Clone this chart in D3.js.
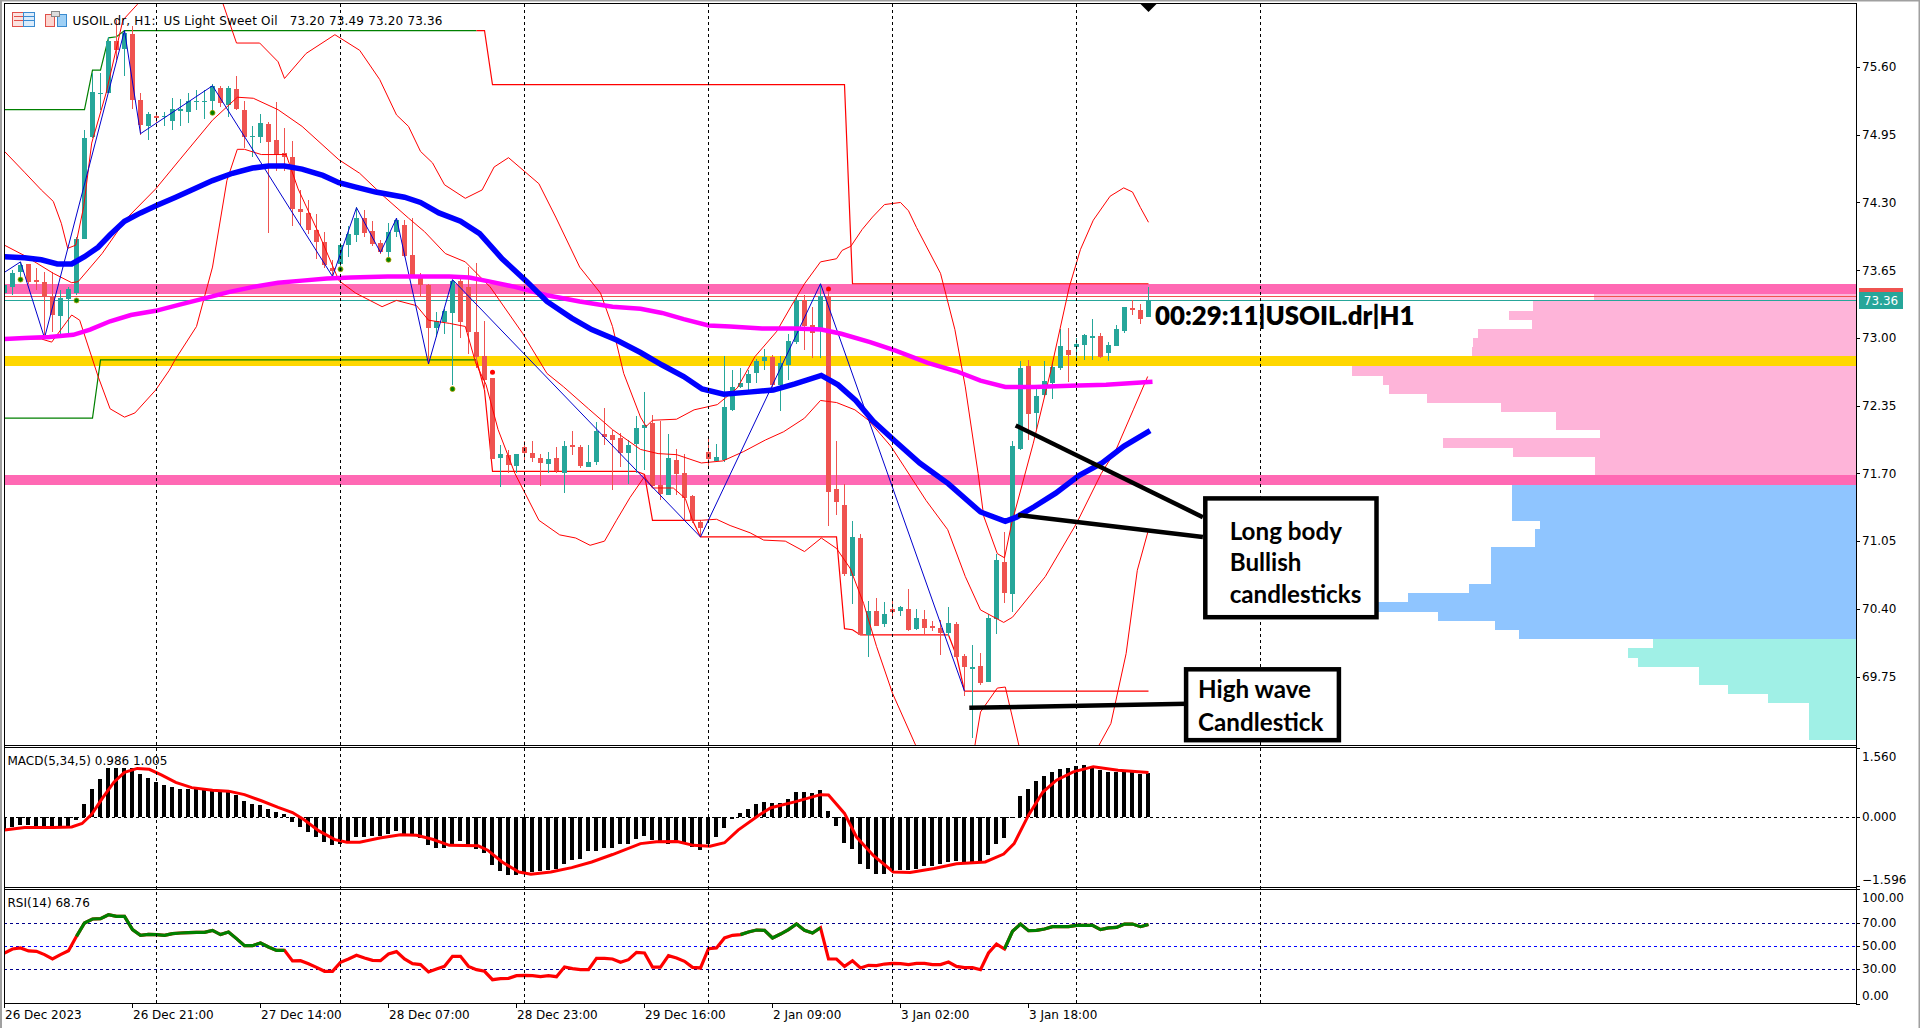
<!DOCTYPE html>
<html><head><meta charset="utf-8">
<script src="https://cdn.jsdelivr.net/npm/d3@7"></script>
<style>
html,body{margin:0;padding:0;background:#fff;overflow:hidden}
svg{display:block}
text{font-family:"DejaVu Sans",sans-serif;fill:#000}
</style></head><body>
<div id="chart"></div>
<script>
// [open, high, low, close] per hourly bar
const candles=[
[73.43,73.52,73.40,73.51],[73.49,73.65,73.41,73.62],[73.63,73.73,73.54,73.70],[73.71,73.71,73.52,73.54],[73.56,73.67,73.46,73.54],[73.54,73.63,73.01,73.39],[73.39,73.63,73.06,73.22],[73.21,73.46,73.01,73.38],
[73.37,73.49,73.04,73.47],[73.43,73.97,73.41,73.95],[73.95,75.00,73.95,74.92],[74.93,75.54,74.92,75.36],[75.34,75.54,75.19,75.35],[75.35,75.89,75.35,75.85],[75.85,76.05,75.67,75.76],[75.77,75.95,75.51,75.93],
[75.92,75.99,75.20,75.28],[75.28,75.35,74.95,75.04],[75.03,75.17,74.90,75.15],[75.13,75.15,75.06,75.11],[75.12,75.17,75.03,75.13],[75.08,75.30,75.00,75.20],[75.18,75.29,75.03,75.20],[75.17,75.35,75.06,75.27],
[75.26,75.38,75.19,75.27],[75.26,75.38,75.10,75.27],[75.27,75.44,75.16,75.42],[75.40,75.42,75.22,75.25],[75.24,75.42,75.12,75.40],[75.39,75.51,75.19,75.20],[75.19,75.27,74.82,74.93],[74.93,75.03,74.74,74.94],
[74.93,75.15,74.87,75.06],[75.05,75.07,74.01,74.88],[74.90,75.26,74.60,74.76],[74.77,75.01,74.60,74.74],[74.74,74.89,74.07,74.24],[74.24,74.42,74.08,74.21],[74.20,74.32,74.00,74.04],[74.04,74.19,73.76,73.92],
[73.92,74.02,73.67,73.70],[73.67,73.75,73.59,73.64],[73.71,73.91,73.68,73.89],[73.89,74.07,73.78,74.00],[73.99,74.26,73.92,74.15],[74.15,74.23,73.97,74.01],[74.03,74.12,73.88,73.90],[73.91,73.94,73.81,73.82],
[73.82,74.10,73.78,74.02],[74.02,74.15,73.97,74.13],[74.08,74.13,73.78,73.79],[73.80,74.15,73.59,73.60],[73.60,73.62,73.40,73.51],[73.51,73.52,72.76,73.10],[73.10,73.25,73.01,73.16],[73.15,73.28,73.04,73.26],
[73.24,73.56,72.55,73.55],[73.55,73.60,73.00,73.15],[73.49,73.68,72.85,73.06],[73.06,73.72,72.71,72.82],[72.83,73.16,72.50,72.60],[72.62,72.62,71.84,71.84],[71.85,71.97,71.57,71.89],[71.88,71.92,71.70,71.78],
[71.77,71.89,71.70,71.89],[71.95,72.01,71.81,71.90],[71.90,72.01,71.81,71.85],[71.85,71.89,71.58,71.80],[71.79,71.91,71.70,71.84],[71.85,71.95,71.70,71.72],[71.70,72.01,71.51,71.96],[71.97,72.11,71.88,71.95],
[71.95,71.97,71.75,71.77],[71.76,71.97,71.76,71.81],[71.81,72.19,71.78,72.11],[72.08,72.33,71.97,72.05],[72.07,72.12,71.54,72.02],[72.04,72.09,71.76,71.90],[71.90,72.02,71.60,71.97],[71.98,72.25,71.70,72.14],
[72.14,72.48,71.73,72.16],[72.18,72.26,71.57,71.58],[71.59,72.20,71.44,71.50],[71.49,72.08,71.49,71.85],[71.83,71.93,71.49,71.69],[71.70,71.89,71.25,71.46],[71.48,71.49,71.22,71.24],[71.23,71.25,71.09,71.18],
[71.91,72.03,71.74,71.84],[71.82,71.98,71.81,71.86],[71.83,72.83,71.81,72.34],[72.31,72.69,72.30,72.53],[72.53,72.71,72.52,72.57],[72.57,72.69,72.49,72.65],[72.66,72.80,72.57,72.78],[72.78,72.89,72.69,72.82],
[72.82,72.84,72.53,72.55],[72.55,72.83,72.30,72.76],[72.74,73.04,72.60,72.97],[72.96,73.40,72.94,73.36],[73.36,73.41,72.88,73.11],[73.12,73.30,72.81,73.05],[73.09,73.51,72.81,73.40],[73.40,73.44,71.20,71.52],
[71.55,72.01,71.30,71.43],[71.40,71.60,70.72,70.73],[70.72,71.24,70.45,71.09],[71.08,71.12,70.15,70.15],[70.15,70.48,69.94,70.38],[70.38,70.50,70.24,70.24],[70.25,70.47,70.23,70.35],[70.40,70.50,70.30,70.37],
[70.38,70.43,70.33,70.42],[70.40,70.59,70.19,70.20],[70.21,70.40,70.20,70.31],[70.30,70.39,70.16,70.22],[70.24,70.28,70.19,70.22],[70.22,70.29,69.96,70.17],[70.17,70.42,70.14,70.26],[70.25,70.27,69.94,69.94],
[69.95,69.97,69.56,69.84],[69.82,70.05,69.16,69.84],[69.85,69.98,69.67,69.69],[69.70,70.35,69.70,70.31],[70.30,70.93,70.16,70.87],[70.85,71.14,70.46,70.55],[70.54,72.01,70.37,71.96],[71.93,72.78,71.92,72.71],
[72.73,72.79,72.02,72.27],[72.28,72.53,72.13,72.44],[72.45,72.78,72.43,72.59],[72.57,72.76,72.41,72.72],[72.71,73.09,72.69,72.92],[72.88,73.10,72.58,72.84],[72.91,73.00,72.80,72.94],[72.93,73.04,72.79,73.03],
[73.00,73.18,72.79,73.02],[73.02,73.05,72.81,72.82],[72.86,72.96,72.78,72.93],[72.92,73.12,72.92,73.09],[73.07,73.30,73.05,73.30],[73.29,73.36,73.22,73.27],[73.27,73.33,73.13,73.18],[73.20,73.49,73.20,73.36]];

const emaBlue=[[0,73.78],[2.5,73.77],[4.6,73.75],[6.6,73.71],[8.4,73.71],[10,73.78],[11.7,73.87],[13.2,73.99],[15,74.12],[17,74.20],[19,74.27],[21.4,74.35],[23.4,74.42],[26,74.51],[28.5,74.58],[31,74.63],[33,74.65],[35,74.65],[37.2,74.62],[39.8,74.56],[41.8,74.49],[43.8,74.45],[46.4,74.40],[50,74.35],[52,74.30],[54.3,74.20],[57,74.12],[59.4,74.00],[62.2,73.76],[65.3,73.54],[67.8,73.35],[70.9,73.19],[73.4,73.08],[76.5,72.98],[79.5,72.86],[82.2,72.74],[84.9,72.63],[87.2,72.51],[89.9,72.46],[93,72.48],[96.1,72.50],[98.8,72.56],[102.1,72.64],[104.2,72.55],[106.4,72.40],[108.6,72.20],[111.3,72.01],[114.4,71.80],[118,71.60],[122,71.33],[125.1,71.24],[126.5,71.28],[128.7,71.38],[131.4,71.51],[134.3,71.68],[137.2,71.80],[139.9,71.96],[143.2,72.11]];

const emaMagenta=[[0,72.99],[2.5,73.00],[5.6,73.01],[8.6,73.03],[10.7,73.08],[13.2,73.16],[15.8,73.22],[18.9,73.26],[21.9,73.32],[25,73.38],[28,73.44],[31.1,73.49],[34.2,73.53],[37.2,73.55],[40.3,73.57],[43.3,73.58],[47.9,73.59],[52,73.59],[55.6,73.59],[58.1,73.58],[60.7,73.54],[63.8,73.49],[67.8,73.41],[71.9,73.35],[76,73.30],[79.5,73.28],[82.2,73.24],[84.9,73.18],[88,73.12],[90.7,73.11],[94.7,73.09],[98.8,73.09],[102.1,73.08],[104.6,73.04],[108.2,72.96],[111.3,72.88],[115.4,72.76],[119,72.68],[122,72.59],[125.1,72.53],[128.7,72.53],[133.2,72.54],[137.7,72.55],[143.5,72.58]];

const bandUpper=[[0,74.79],[2.5,74.59],[4.6,74.42],[6.1,74.31],[7.1,74.10],[7.9,73.86],[8.9,73.89],[9.9,74.26],[10.9,74.87],[12.7,75.35],[14.8,76.05],[16.6,76.20],[19,76.5],[22,76.6],[25,76.45],[27.3,76.21],[29,75.83],[31.9,75.83],[34.2,75.65],[35,75.49],[37.7,75.73],[41.3,75.91],[44.4,75.76],[46.9,75.48],[49,75.14],[50.5,75.03],[52,74.79],[53.5,74.68],[55,74.47],[57.6,74.34],[59.7,74.42],[61.2,74.64],[63,74.73],[66.8,74.48],[68.9,74.16],[71.9,73.68],[74.5,73.43],[76,73.11],[77.4,72.66],[79.5,72.24],[80.2,72.15],[81,72.21],[84,72.22],[86.2,72.31],[89.1,72.36],[91.6,72.52],[93.8,72.82],[96.5,73.06],[98.3,73.30],[100,73.52],[102,73.73],[104,73.76],[104.7,73.84],[105.8,73.88],[107.2,74.04],[108.5,74.16],[110,74.28],[112,74.30],[113,74.22],[114,74.06],[117,73.62],[118.8,73.08],[120.1,72.53],[121.7,71.70],[122.4,71.29],[124.1,70.93],[125,70.89],[125.9,71.22],[128.6,71.99],[130.8,72.69],[133.1,73.49],[134.5,73.85],[136.1,74.13],[138.2,74.36],[139.9,74.44],[141,74.40],[142,74.25],[143,74.11]];

const bandMiddle=[[0,73.89],[2.5,73.79],[6.1,73.62],[8.4,73.53],[9.2,73.54],[12.2,73.81],[15.3,74.15],[18.9,74.43],[21.9,74.71],[26,75.09],[29.1,75.31],[31.1,75.30],[34.2,75.19],[37.2,75.03],[41.8,74.71],[44.4,74.58],[47.4,74.36],[50.5,74.15],[52.5,74.02],[55.1,73.81],[57.6,73.73],[60.7,73.49],[64.8,73.04],[67.8,72.66],[69.9,72.53],[73,72.32],[76,72.12],[79.5,71.93],[81.7,71.89],[84,71.88],[87.1,71.80],[89.8,71.82],[92.4,71.91],[95.1,72.02],[97.4,72.10],[100,72.23],[102,72.40],[104,72.38],[106.3,72.31],[108,72.21],[110.8,71.96],[112.5,71.76],[115.2,71.44],[117.9,71.16],[120.1,70.71],[122,70.39],[124.9,70.27],[126,70.32],[130.1,70.71],[134,71.22],[137.1,71.70],[138.9,71.92],[141.1,72.31],[142.9,72.63]];

const bandLower=[[0,72.99],[4.6,72.99],[5.9,72.96],[8.4,73.22],[9.4,73.17],[11.7,72.63],[13.2,72.32],[15,72.24],[16.3,72.28],[18.9,72.50],[20.6,72.69],[21.4,72.80],[24,73.11],[26,73.68],[27.8,74.51],[29.1,74.81],[30,74.81],[32.1,74.76],[35.2,74.76],[36.7,74.43],[39.3,74.00],[41.8,73.55],[43.9,73.43],[47.2,73.30],[49,73.36],[51.5,73.31],[53,73.17],[55.6,73.14],[57.6,73.11],[58.9,72.76],[60.2,72.55],[61.7,72.12],[63.8,71.70],[66.8,71.25],[69.4,71.11],[71.4,71.08],[73.2,71.01],[75,71.05],[76.5,71.25],[78.2,71.47],[80,71.67],[81,71.56],[83.6,71.56],[85.1,71.46],[86,71.25],[87.1,71.25],[89,71.26],[90.7,71.20],[93.2,71.13],[94.9,71.06],[97.6,71.05],[100,70.95],[102.1,71.08],[104,70.98],[105.7,70.79],[107.4,70.45],[109,70.04],[111,69.59],[113.9,69.09],[117,68.6],[121.3,69.09],[122,69.41],[124.1,69.64],[125.1,69.65],[126.8,69.09],[130,68.3],[136.8,69.09],[138.3,69.30],[140.2,69.97],[141.6,70.77],[143,71.16]];

const stepUpperGreen=[[0,75.19],[10,75.19],[11,75.57],[12,75.57],[13,75.88],[14,75.89],[15,75.95],[59,75.95]];
const stepUpperRed=[[59,75.95],[60,75.95],[61,75.43],[105,75.43],[106,73.52],[143,73.52]];
const stepLowerGreen=[[0,72.23],[11,72.23],[12,72.79],[59,72.79]];
const stepLowerRed=[[59,72.79],[60,72.50],[61,71.72],[79,71.72],[80,71.69],[81,71.25],[86,71.25],[87,71.09],[104,71.09],[105,70.21],[106,70.20],[107,70.15],[118,70.15],[119,69.95],[120,69.61],[143,69.61]];

const zigzag=[[0,73.63],[2,73.73],[5,73.00],[15,75.95],[17,74.96],[26,75.42],[41,73.59],[44,74.25],[47,73.82],[49,74.15],[53,72.75],[56,73.56],[87,71.09],[102,73.52],[120,69.61]];

const buyDots=[[2,73.56],[9,73.36],[26,75.16],[42,73.66],[48,73.75],[56,72.51]];
const sellDots=[[61,72.67],[103,73.47]];

const resistanceZones=[73.47,71.64];
const supportZones=[72.78];
const askPrice=73.40, bidPrice=73.36;

// volume profile rows: edges top to bottom, one volume per row
const pinkEdges=[73.42,73.35,73.26,73.17,73.09,73.00,72.91,72.82,72.73,72.63,72.55,72.46,72.38,72.29,72.12,72.04,71.94,71.86,71.68,71.59];
const pinkVolumes=[262,323,347,324,378,383,384,384,504,473,467,429,355,300,256,413,343,261,261];
const blueEdges=[71.59,71.24,71.17,70.99,70.64,70.55,70.47,70.37,70.28,70.20,70.11];
const blueVolumes=[344,316,321,365,387,448,487,418,361,337];
const tealEdges=[70.11,70.02,69.93,69.84,69.67,69.58,69.50,69.14];
const tealVolumes=[203,228,218,157,128,88,47];

const macdHist=[-0.30,-0.24,-0.20,-0.20,-0.22,-0.22,-0.27,-0.25,-0.22,-0.08,0.28,0.62,0.85,1.10,1.10,1.10,1.10,0.98,0.89,0.79,0.72,0.68,0.64,0.63,0.63,0.62,0.62,0.60,0.60,0.50,0.35,0.28,0.26,0.18,0.10,0.05,-0.13,-0.24,-0.35,-0.47,-0.58,-0.65,-0.63,-0.58,-0.48,-0.47,-0.45,-0.45,-0.41,-0.33,-0.40,-0.43,-0.50,-0.66,-0.72,-0.72,-0.62,-0.56,-0.66,-0.75,-0.83,-1.11,-1.24,-1.34,-1.34,-1.27,-1.27,-1.24,-1.23,-1.19,-1.08,-1.00,-0.98,-0.79,-0.79,-0.73,-0.71,-0.63,-0.63,-0.52,-0.45,-0.53,-0.60,-0.62,-0.58,-0.64,-0.69,-0.76,-0.64,-0.47,-0.27,-0.06,0.07,0.17,0.28,0.33,0.30,0.32,0.39,0.56,0.55,0.53,0.60,0.12,-0.22,-0.60,-0.75,-1.09,-1.21,-1.32,-1.32,-1.25,-1.23,-1.23,-1.19,-1.14,-1.14,-1.08,-1.04,-1.02,-1.06,-1.04,-1.01,-0.89,-0.62,-0.50,-0.04,0.47,0.64,0.81,0.92,1.01,1.08,1.12,1.15,1.17,1.14,1.06,1.01,1.02,1.05,1.01,0.98,0.99];
const macdSignal=[[0,-0.31],[2.5,-0.25],[6.1,-0.25],[8.4,-0.24],[9.7,-0.16],[10.9,0.05],[12.2,0.41],[13.7,0.79],[15,1.01],[16.6,1.10],[18.1,1.08],[19.6,0.95],[21.4,0.78],[23.4,0.66],[26,0.60],[28,0.58],[30,0.50],[32.1,0.36],[34.2,0.21],[36,0.09],[37.5,-0.08],[39.3,-0.33],[41.3,-0.53],[42.8,-0.59],[44.4,-0.59],[46.9,-0.49],[49.5,-0.42],[51.5,-0.43],[53.5,-0.52],[55.6,-0.66],[59.2,-0.67],[60.4,-0.77],[62.2,-1.04],[64.3,-1.27],[65.8,-1.32],[68.3,-1.27],[70.9,-1.17],[73.4,-1.04],[76,-0.87],[79.5,-0.62],[81.5,-0.58],[84.1,-0.57],[86.1,-0.66],[88.2,-0.68],[90,-0.60],[91.7,-0.31],[94.3,0.03],[95.8,0.20],[98.9,0.34],[102,0.50],[103,0.49],[105,0.07],[106.5,-0.47],[108.6,-0.89],[111.1,-1.27],[113.2,-1.28],[116.2,-1.19],[119,-1.08],[122.6,-1.04],[124.9,-0.86],[126.2,-0.62],[128,0.03],[129.8,0.56],[131.5,0.83],[133.6,1.02],[136.1,1.14],[139.2,1.06],[143,1.005]];

const rsiValues=[43.9,47.4,48.3,45.7,45.4,42.5,38.7,42.5,45.9,58.4,70,73.5,73.8,77.2,75.8,75.8,64.2,59.3,60.1,59.9,59.3,60.7,61.3,61.6,61.9,61.9,63.6,59.9,62.2,56.4,50.3,50.3,52.6,49.1,46.2,46.2,37,37.2,34.6,31.4,28,28,35.8,38.7,41.9,39.6,37.5,37.2,43,45.1,38.7,34.6,33.8,27.4,30,32.3,41,41,32.3,29.4,28,20.7,21.6,21.9,24.2,24.5,24.2,23.3,24.2,23.3,31.7,30.3,29.4,29.4,39.3,39.3,38.7,35.8,38.1,44.5,43.9,31.7,31.7,41.6,39.6,36.7,31.4,30.9,47.7,48.3,57,59.3,59.9,62.2,63.9,63.6,57,60.4,64.2,69.1,63.6,61.3,65.9,38.7,38.7,32.3,37.2,30.9,33.2,32.9,34.3,34.9,34.6,33.8,34.9,34.9,33.8,33.8,36.1,32.3,31.2,31.2,29.4,43.9,51.7,47.4,62.8,69.1,63.3,63.6,64.8,66.8,66.8,66.8,68,68,68,64.2,65.7,66.2,69.1,69.1,66.8,68.76];
const rsiGreenRanges=[[9,35],[92,102],[125,143]];

const priceTicks=[75.60,74.95,74.30,73.65,73.00,72.35,71.70,71.05,70.40,69.75];
const macdTicks=[1.56,0,-1.596];
const rsiTicks=[100,70,50,30,0];
const rsiLevels=[70,50,30];
const gridBars=[19,42,65,88,111,134,157];
const timeBars=[0,16,32,48,64,80,96,112,128];
const timeLabels=["26 Dec 2023","26 Dec 21:00","27 Dec 14:00","28 Dec 07:00","28 Dec 23:00","29 Dec 16:00","2 Jan 09:00","3 Jan 02:00","3 Jan 18:00"];

const headerLabel="USOIL.dr, H1:  US Light Sweet Oil   73.20 73.49 73.20 73.36";
const macdLabel="MACD(5,34,5) 0.986 1.005";
const rsiLabel="RSI(14) 68.76";
const timerLabel="00:29:11|USOIL.dr|H1";
// annotations in bar / price units
const calloutLines=[[[126.4,72.16],[149.8,71.28]],[[126.7,71.30],[149.8,71.09]],[[120.6,69.45],[147.9,69.49]]];
const calloutBoxes=[[150.1,171.5,71.46,70.32],[147.7,166.8,69.82,69.14]];
const calloutTexts=[[153.15,71.065,"Long body"],[153.15,70.765,"Bullish"],[153.15,70.455,"candlesticks"],[149.2,69.54,"High wave"],[149.2,69.23,"Candlestick"]];

const W=1920,H=1028, L=4, R=1856;
const teal="#26a69a", red="#ef5350";
const svg=d3.select("#chart").append("svg").attr("width",W).attr("height",H);
const x=d3.scaleLinear().domain([0,143]).range([4.5,1148.5]);
const y=d3.scaleLinear().domain([69.75,75.60]).range([676.6,67]);
const ym=d3.scaleLinear().domain([0,1.56]).range([816.5,748.3]);
const yr=d3.scaleLinear().domain([30,70]).range([969,923]);
const xv=d3.scaleLinear().domain([0,600]).range([R,R-600]);
const panes=[["cm",4,745],["cd",747.5,887],["cr",889.5,1003]];
const defs=svg.append("defs");
panes.forEach(p=>defs.append("clipPath").attr("id",p[0]).append("rect").attr("x",L).attr("y",p[1]).attr("width",R-L).attr("height",p[2]-p[1]));
const main=svg.append("g").attr("clip-path","url(#cm)");
const mac=svg.append("g").attr("clip-path","url(#cd)");
const rs=svg.append("g").attr("clip-path","url(#cr)");
const lineOf=sc=>d3.line().x(d=>x(d[0])).y(d=>sc(d[1]));

function profile(edges,vols,col){
  main.append("g").selectAll("rect").data(vols).join("rect")
   .attr("x",d=>xv(d)).attr("width",d=>R-xv(d))
   .attr("y",(d,i)=>y(edges[i])).attr("height",(d,i)=>y(edges[i+1])-y(edges[i]))
   .attr("fill",col).attr("shape-rendering","crispEdges");
}
profile(pinkEdges,pinkVolumes,"#feb4d9");
profile(blueEdges,blueVolumes,"#8fc5ff");
profile(tealEdges,tealVolumes,"#a0f0e6");

main.append("g").selectAll("rect").data(resistanceZones).join("rect").attr("x",L).attr("width",R-L)
 .attr("y",d=>y(d)-5).attr("height",10).attr("fill","#ff69b4").attr("shape-rendering","crispEdges");
main.append("g").selectAll("rect").data(supportZones).join("rect").attr("x",L).attr("width",R-L)
 .attr("y",d=>y(d)-5).attr("height",10).attr("fill","#ffd700").attr("shape-rendering","crispEdges");

// bid / ask
[[askPrice,red],[bidPrice,teal]].forEach(a=>main.append("line").attr("x1",L).attr("x2",R).attr("y1",Math.round(y(a[0]))+.5).attr("y2",Math.round(y(a[0]))+.5).attr("stroke",a[1]).attr("stroke-width",1));

// grid
const gridG=svg.append("g");
gridG.selectAll("line").data(gridBars).join("line").attr("x1",d=>Math.floor(x(d))+.5).attr("x2",d=>Math.floor(x(d))+.5)
 .attr("y1",4).attr("y2",1003).attr("stroke","#000").attr("stroke-dasharray","3,3");

// step lines
[[stepUpperGreen,"#008000"],[stepLowerGreen,"#008000"],[stepUpperRed,"#ff0000"],[stepLowerRed,"#ff0000"]].forEach(s=>
 main.append("path").attr("d",lineOf(y)(s[0])).attr("fill","none").attr("stroke",s[1]).attr("stroke-width",1.2));

// candles
const cg=main.append("g").attr("shape-rendering","crispEdges");
cg.selectAll("line").data(candles).join("line")
 .attr("x1",(d,i)=>Math.floor(x(i))+.5).attr("x2",(d,i)=>Math.floor(x(i))+.5)
 .attr("y1",d=>y(d[1])).attr("y2",d=>y(d[2])).attr("stroke",d=>d[3]>=d[0]?teal:red);
cg.selectAll("rect").data(candles).join("rect")
 .attr("x",(d,i)=>Math.floor(x(i))-2).attr("width",5)
 .attr("y",d=>y(Math.max(d[0],d[3]))).attr("height",d=>Math.max(1,Math.abs(y(d[0])-y(d[3]))))
 .attr("fill",d=>d[3]>=d[0]?teal:red);

// thin bands and zigzag
[bandUpper,bandMiddle,bandLower].forEach(b=>main.append("path").attr("d",lineOf(y)(b)).attr("fill","none").attr("stroke","#ff0000").attr("stroke-width",1));
main.append("path").attr("d",lineOf(y)(zigzag)).attr("fill","none").attr("stroke","#0000cd").attr("stroke-width",1);

// moving averages
main.append("path").attr("d",lineOf(y)(emaMagenta)).attr("fill","none").attr("stroke","#ff00ff").attr("stroke-width",4.5);
main.append("path").attr("d",lineOf(y)(emaBlue)).attr("fill","none").attr("stroke","#0000ff").attr("stroke-width",5.5);

// dots
main.append("g").selectAll("circle").data(buyDots).join("circle").attr("cx",d=>x(d[0])).attr("cy",d=>y(d[1])).attr("r",2.5).attr("fill","#008000").attr("stroke","#b8a000").attr("stroke-width",.8);
main.append("g").selectAll("circle").data(sellDots).join("circle").attr("cx",d=>x(d[0])).attr("cy",d=>y(d[1])).attr("r",2.5).attr("fill","#ff0000");

// last-bar marker
main.append("path").attr("d",d3.line()([[x(143)-8,4],[x(143)+8,4],[x(143),12]])+"Z").attr("fill","#000");

// callouts
calloutLines.forEach(l=>svg.append("line").attr("x1",x(l[0][0])).attr("y1",y(l[0][1])).attr("x2",x(l[1][0])).attr("y2",y(l[1][1])).attr("stroke","#000").attr("stroke-width",4.5));
calloutBoxes.forEach(b=>svg.append("rect").attr("x",x(b[0])).attr("width",x(b[1])-x(b[0])).attr("y",y(b[2])).attr("height",y(b[3])-y(b[2])).attr("fill","#fff").attr("stroke","#000").attr("stroke-width",4.5));
calloutTexts.forEach(t=>svg.append("text").attr("x",x(t[0])).attr("y",y(t[1])).text(t[2]).style("font-family","Lato").style("font-weight",700).style("font-size","24.2px"));
svg.append("text").attr("x",1155).attr("y",y(73.12)).text(timerLabel).style("font-family","Lato").style("font-weight",800).style("font-size","25.8px");

// MACD
mac.append("g").attr("shape-rendering","crispEdges").selectAll("rect").data(macdHist).join("rect")
 .attr("x",(d,i)=>Math.floor(x(i))-2).attr("width",4)
 .attr("y",d=>Math.min(ym(d),ym(0))).attr("height",d=>Math.abs(ym(d)-ym(0))).attr("fill","#000");
mac.append("line").attr("x1",L).attr("x2",R).attr("y1",Math.round(ym(0))+.5).attr("y2",Math.round(ym(0))+.5).attr("stroke","#000").attr("stroke-dasharray","3,3");
mac.append("path").attr("d",lineOf(ym)(macdSignal)).attr("fill","none").attr("stroke","#ff0000").attr("stroke-width",3);

// RSI
rsiLevels.forEach(v=>rs.append("line").attr("x1",L).attr("x2",R).attr("y1",Math.round(yr(v))+.5).attr("y2",Math.round(yr(v))+.5).attr("stroke",v==50?"#0000ff":"#00008b").attr("stroke-dasharray","3,3"));
const rsiLine=d3.line().x((d,i)=>x(i)).y(d=>yr(d));
rs.append("path").attr("d",rsiLine(rsiValues)).attr("fill","none").attr("stroke","#ff0000").attr("stroke-width",3.2);
rsiGreenRanges.forEach(r=>{
  const line=d3.line().x(d=>x(d[0])).y(d=>yr(d[1]));
  rs.append("path").attr("d",line(rsiValues.map((v,i)=>[i,v]).slice(r[0],r[1]+1))).attr("fill","none").attr("stroke","#008000").attr("stroke-width",3.2);
});

// frame
const f=svg.append("g").attr("stroke","#000").attr("fill","none").attr("shape-rendering","crispEdges");
[[3.5,R+.5],[745.5,R+.5],[747.5,R+.5],[887.5,R+.5],[889.5,R+.5],[1003.5,R+.5]].forEach(a=>f.append("line").attr("x1",L).attr("x2",a[1]).attr("y1",a[0]).attr("y2",a[0]));
f.append("line").attr("x1",R+.5).attr("x2",R+.5).attr("y1",3).attr("y2",1004);
f.append("line").attr("x1",4.5).attr("x2",4.5).attr("y1",3).attr("y2",1004);
svg.append("rect").attr("x",0).attr("y",0).attr("width",2).attr("height",H).attr("fill","#a0a0a0");
svg.append("rect").attr("x",0).attr("y",0).attr("width",W).attr("height",1.5).attr("fill","#a0a0a0");
svg.append("rect").attr("x",W-1.5).attr("y",0).attr("width",1.5).attr("height",H).attr("fill","#a0a0a0");

// axes
function styleAxis(g){g.select(".domain").remove();g.selectAll("text").style("font-size","12px").style("font-family","'DejaVu Sans'");g.selectAll("line").attr("shape-rendering","crispEdges");}
svg.append("g").attr("transform",`translate(${R},0)`).call(d3.axisRight(y).tickValues(priceTicks).tickSize(4).tickPadding(2).tickFormat(d3.format(".2f"))).call(styleAxis);
const am=svg.append("g").attr("transform",`translate(${R},0)`).call(d3.axisRight(ym).tickValues(macdTicks).tickSize(4).tickPadding(2).tickFormat(d3.format(".3f"))).call(styleAxis);
am.selectAll("text").attr("y",d=>d==1.56?8:d<0?-6.5:0);
const ar=svg.append("g").attr("transform",`translate(${R},0)`).call(d3.axisRight(yr).tickValues(rsiTicks).tickSize(4).tickPadding(2).tickFormat(d3.format(".2f"))).call(styleAxis);
ar.selectAll("text").attr("y",d=>d==100?9:d==0?-8:0);
const at=svg.append("g").attr("transform","translate(0,1003.5)").call(d3.axisBottom(x).tickValues(timeBars).tickSize(4).tickFormat((d,i)=>timeLabels[i])).call(styleAxis);
at.selectAll("text").attr("text-anchor","start").attr("x",0).attr("y",7);
at.selectAll("line").attr("transform","translate(-0.5,0)");

// current price tag
svg.append("rect").attr("x",1859).attr("y",288).attr("width",44).attr("height",4).attr("fill",red);
svg.append("rect").attr("x",1859).attr("y",292).attr("width",44).attr("height",17).attr("fill",teal);
svg.append("text").attr("x",1881).attr("y",y(bidPrice)).attr("dy","0.36em").attr("text-anchor","middle").text(d3.format(".2f")(bidPrice)).style("fill","#fff").style("font-size","12px");

// header
svg.append("text").attr("x",72.5).attr("y",24.5).attr("textLength",370).attr("lengthAdjust","spacing").attr("xml:space","preserve").style("white-space","pre").style("font-size","12px").text(headerLabel);
svg.append("text").attr("x",7.5).attr("y",765).style("font-size","12px").text(macdLabel);
svg.append("text").attr("x",7.5).attr("y",907).style("font-size","12px").text(rsiLabel);

// toolbar icons
const ic=svg.append("g").attr("shape-rendering","crispEdges");
ic.append("rect").attr("x",12.5).attr("y",12.5).attr("width",11).attr("height",14).attr("fill","#fbe3e0").attr("stroke","#e0504a");
ic.append("rect").attr("x",23.5).attr("y",12.5).attr("width",11).attr("height",14).attr("fill","#dcecfb").attr("stroke","#3a8bd0");
[16.5,20.5].forEach(v=>{ic.append("line").attr("x1",14).attr("x2",23).attr("y1",v).attr("y2",v).attr("stroke","#e0504a");ic.append("line").attr("x1",24).attr("x2",34).attr("y1",v).attr("y2",v).attr("stroke","#3a8bd0");});
ic.append("rect").attr("x",45.5).attr("y",14.5).attr("width",9).attr("height",12).attr("fill","#fcd5cf").attr("stroke","#e0504a");
ic.append("rect").attr("x",57.5).attr("y",14.5).attr("width",9).attr("height",12).attr("fill","#9fd0f5").attr("stroke","#3a8bd0");
ic.append("rect").attr("x",51.5).attr("y",11.5).attr("width",8).attr("height",5).attr("fill","#ddd").attr("stroke","#888");
</script></body></html>
